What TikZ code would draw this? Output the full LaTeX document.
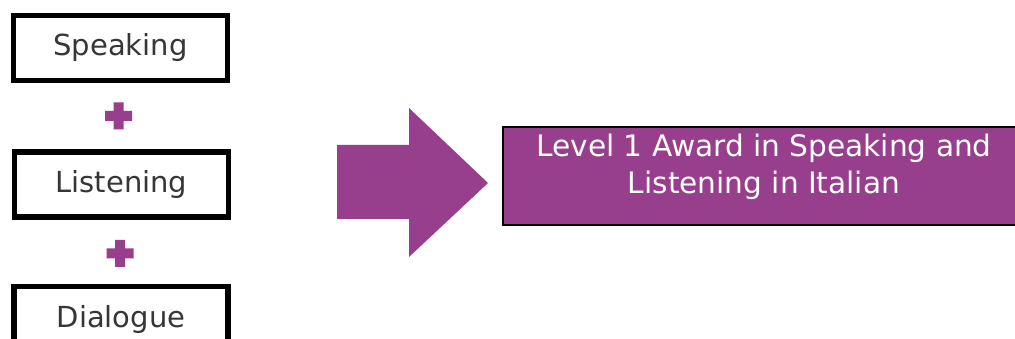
\documentclass[tikz,border=0pt]{standalone}
\usepackage{fontspec}
\setmainfont{DejaVu Sans}
\usetikzlibrary{calc}
\definecolor{plum}{HTML}{973E8C}
\definecolor{txtgray}{HTML}{363636}
\begin{document}
\begin{tikzpicture}[x=1pt,y=-1pt,
  skill/.style={draw=black,line width=5.5pt,fill=white,minimum width=214pt,minimum height=65pt,inner sep=0pt,
    text=txtgray,font=\fontsize{29}{34}\selectfont},
  awardbox/.style={draw=black,line width=2pt,fill=plum,minimum width=520pt,minimum height=98pt,inner sep=0pt,anchor=north west},
  awardtext/.style={text=white,align=center,font=\fontsize{29.6}{37}\selectfont,inner sep=0pt},
  plus/.style={fill=plum,draw=none}]
\useasboundingbox (0,0) rectangle (1015,339);
\clip (0,0) rectangle (1015,339);
\fill[white] (0,0) rectangle (1015,339);
% skill boxes
\node[skill] (speaking) at (120.5,48) {Speaking};
\node[skill] (listening) at (121.5,184.5) {Listening};
\node[skill] (dialogue) at (121,319) {Dialogue};
% plus signs
\coordinate (p1) at (118.5,116);
\coordinate (p2) at (120,253.5);
\foreach \p in {p1,p2}{
  \fill[plus] ($(\p)+(-5,-13.5)$) -- ($(\p)+(5,-13.5)$) -- ($(\p)+(5,-5)$) -- ($(\p)+(13.5,-5)$)
    -- ($(\p)+(13.5,5)$) -- ($(\p)+(5,5)$) -- ($(\p)+(5,13.5)$) -- ($(\p)+(-5,13.5)$)
    -- ($(\p)+(-5,5)$) -- ($(\p)+(-13.5,5)$) -- ($(\p)+(-13.5,-5)$) -- ($(\p)+(-5,-5)$) -- cycle;
}
% big arrow
\fill[plum] (337,145) -- (409,145) -- (409,108) -- (488,183) -- (409,257) -- (409,219) -- (337,219) -- cycle;
% award box
\node[awardbox] (award) at (502,126) {};
\node[awardtext,anchor=north] (awardlabel) at ($(award.north)+(1,8)$) {Level 1 Award in Speaking and\\Listening in Italian};
\end{tikzpicture}
\end{document}
